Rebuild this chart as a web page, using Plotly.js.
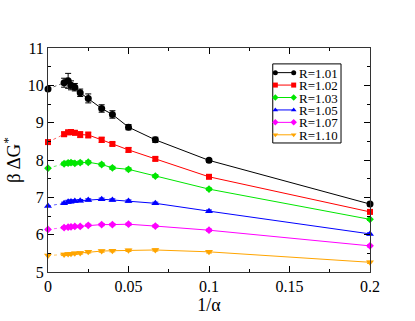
<!DOCTYPE html>
<html>
<head>
<meta charset="utf-8">
<script src="https://cdn.plot.ly/plotly-3.0.1.min.js"></script>
<style>html,body{margin:0;padding:0;background:#fff;}#chart{width:415px;height:321px;}</style>
</head>
<body>
<div id="chart"></div>
<script>
// ---- data ----
const invAlpha = [0.01, 0.0125, 0.014286, 0.016667, 0.02, 0.025, 0.033333, 0.04, 0.05, 0.066667, 0.1, 0.2];
const seriesNames = ["R=1.01", "R=1.02", "R=1.03", "R=1.05", "R=1.07", "R=1.10"];
const extrapolated = [9.90, 8.48, 7.78, 6.77, 6.14, 5.44];
const r101 = [10.07, 10.12, 10.00, 9.95, 9.80, 9.65, 9.38, 9.22, 8.88, 8.54, 7.99, 6.82];
const r102 = [8.69, 8.74, 8.75, 8.73, 8.68, 8.67, 8.54, 8.43, 8.27, 8.03, 7.55, 6.61];
const r103 = [7.90, 7.92, 7.93, 7.91, 7.93, 7.94, 7.88, 7.79, 7.75, 7.57, 7.22, 6.41];
const r105 = [6.84, 6.88, 6.89, 6.90, 6.91, 6.93, 6.95, 6.93, 6.90, 6.84, 6.63, 6.02];
const r107 = [6.19, 6.20, 6.21, 6.22, 6.22, 6.25, 6.27, 6.27, 6.28, 6.23, 6.12, 5.70];
const r110 = [5.47, 5.48, 5.49, 5.50, 5.51, 5.54, 5.56, 5.57, 5.58, 5.59, 5.54, 5.26];
const err101 = [0.12, 0.20, 0.12, 0.10, 0.10, 0.12, 0.10, 0.10, 0.07, 0.07, 0.05, 0.05];
const err102 = [0.06, 0.06, 0.06, 0.06, 0.08, 0.08, 0.07, 0.05, 0.06, 0.05, 0.04, 0.04];
const err103 = [0.04, 0.05, 0.05, 0.04, 0.04, 0.04, 0.04, 0.04, 0.04, 0.04, 0.03, 0.03];
const err105 = [0.03, 0.04, 0.04, 0.03, 0.03, 0.03, 0.03, 0.03, 0.03, 0.03, 0.03, 0.03];
const err107 = [0.03, 0.03, 0.03, 0.03, 0.03, 0.03, 0.03, 0.03, 0.03, 0.03, 0.03, 0.03];
const err110 = [0.03, 0.03, 0.03, 0.03, 0.03, 0.03, 0.03, 0.03, 0.03, 0.03, 0.03, 0.03];
const xTickVals = [0, 0.05, 0.1, 0.15, 0.2];
const xTickText = ["0", "0.05", "0.1", "0.15", "0.2"];
const yTickVals = [5, 6, 7, 8, 9, 10, 11];

// ---- styles ----
const allY = [r101, r102, r103, r105, r107, r110];
const allErr = [err101, err102, err103, err105, err107, err110];
const colors = ["#000000", "#ff0000", "#00e600", "#0000ff", "#ff00ff", "#ffa500"];
const symbols = ["circle", "square", "diamond", "triangle-up", "diamond", "triangle-down"];
const sizes = [7, 6, 6, 7, 6, 7];
const FONT = "'Liberation Serif', 'DejaVu Serif', serif";

const traces = [];
allY.forEach((ys, i) => {
  traces.push({
    x: [0, invAlpha[0]], y: [extrapolated[i], ys[0]],
    mode: "lines", line: {color: colors[i], width: 1, dash: "dot"},
    opacity: 0.6, showlegend: false, hoverinfo: "skip", cliponaxis: false
  });
  traces.push({
    x: [0], y: [extrapolated[i]], mode: "markers",
    marker: {color: colors[i], symbol: symbols[i], size: sizes[i]},
    showlegend: false, cliponaxis: false
  });
  traces.push({
    x: invAlpha, y: ys, mode: "lines+markers", name: seriesNames[i],
    line: {color: colors[i], width: 1},
    marker: {color: colors[i], symbol: symbols[i], size: sizes[i]},
    error_y: {type: "data", array: allErr[i], color: colors[i], thickness: 1, width: 3},
    showlegend: false, cliponaxis: false
  });
});

// ---- custom legend (layout positions in paper fractions) ----
const legTop = 0.890, legStep = 0.0555;
const annotations = [];
seriesNames.forEach((nm, i) => {
  const yy = legTop - i * legStep;
  traces.push({
    x: [0.706, 0.763], y: [yy, yy], xaxis: "x2", yaxis: "y2",
    mode: "lines+markers", line: {color: colors[i], width: 1},
    marker: {color: colors[i], symbol: symbols[i], size: 5},
    showlegend: false, hoverinfo: "skip", cliponaxis: false
  });
  annotations.push({
    xref: "paper", yref: "paper", x: 0.776, y: yy, xanchor: "left", yanchor: "middle",
    text: nm, showarrow: false, borderpad: 0, height: 12,
    font: {family: FONT, size: 13, color: "#000"}
  });
});

const layout = {
  width: 415, height: 321,
  margin: {l: 48, r: 45, t: 48, b: 49},
  paper_bgcolor: "#fff", plot_bgcolor: "#fff",
  showlegend: false,
  font: {family: FONT, size: 16, color: "#000"},
  xaxis: {
    range: [0, 0.2], tickvals: xTickVals, ticktext: xTickText,
    ticks: "inside", ticklen: 6, tickcolor: "#000", tickwidth: 1,
    showline: true, linecolor: "#333", linewidth: 1, mirror: "allticks",
    showgrid: false, zeroline: false,
    minor: {dtick: 0.025, tick0: 0, ticks: "inside", ticklen: 3, tickcolor: "#000", showgrid: false},
    tickfont: {family: FONT, size: 16},
    title: {text: "1/α", font: {family: FONT, size: 18}, standoff: 2}
  },
  yaxis: {
    range: [5, 11], tickvals: yTickVals,
    ticks: "inside", ticklen: 6, tickcolor: "#000", tickwidth: 1,
    showline: true, linecolor: "#333", linewidth: 1, mirror: "allticks",
    showgrid: false, zeroline: false,
    minor: {dtick: 0.5, tick0: 5, ticks: "inside", ticklen: 3, tickcolor: "#000", showgrid: false},
    tickfont: {family: FONT, size: 16},
    title: {text: "β ΔG<sup>*</sup>", font: {family: FONT, size: 19}, standoff: 6}
  },
  xaxis2: {overlaying: "x", range: [0, 1], visible: false, fixedrange: true},
  yaxis2: {overlaying: "y", range: [0, 1], visible: false, fixedrange: true},
  shapes: [{
    type: "rect", xref: "paper", yref: "paper",
    x0: 0.698, x1: 0.910, y0: 0.576, y1: 0.929,
    line: {color: "#000", width: 1}, fillcolor: "#fff", layer: "below"
  }],
  annotations: annotations
};

Plotly.newPlot("chart", traces, layout, {displayModeBar: false, staticPlot: true});
</script>
</body>
</html>
